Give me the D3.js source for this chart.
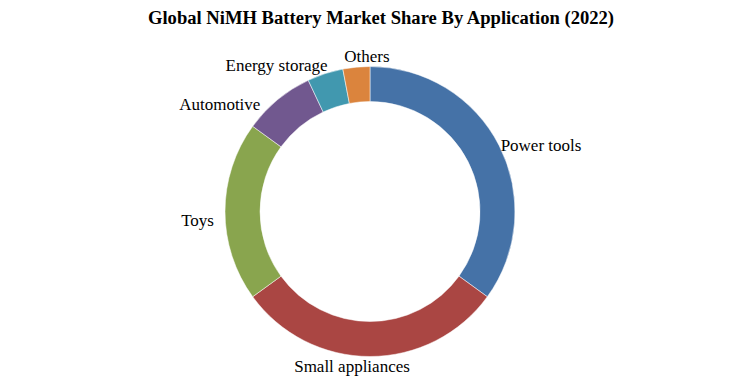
<!DOCTYPE html>
<html>
<head>
<meta charset="utf-8">
<script src="https://cdn.jsdelivr.net/npm/d3@7"></script>
<style>
  body { margin: 0; background: #fff; }
  text { font-family: "Liberation Serif", "Times New Roman", serif; fill: #000; }
</style>
</head>
<body>
<div id="chart"></div>
<script>
var categories = ["Power tools", "Small appliances", "Toys", "Automotive", "Energy storage", "Others"];
var shares = [35, 30, 20, 8, 4, 3];
var colors = ["#4572A7", "#AA4643", "#89A54E", "#71588F", "#4198AF", "#DB843D"];
var title = "Global NiMH Battery Market Share By Application (2022)";

var width = 751,
    height = 388;

var svg = d3.select("#chart").append("svg")
    .attr("width", width)
    .attr("height", height);

svg.append("text")
    .attr("x", 381)
    .attr("y", 24)
    .attr("text-anchor", "middle")
    .style("font-size", "18.6px")
    .style("font-weight", "bold")
    .text(title);

var cx = 370, cy = 211.5,
    outerR = 145, innerR = 110;

var data = categories.map(function(c, i) { return { name: c, value: shares[i] }; });

var pie = d3.pie()
    .sort(null)
    .value(function(d) { return d.value; });

var arc = d3.arc()
    .innerRadius(innerR)
    .outerRadius(outerR);

var g = svg.append("g")
    .attr("transform", "translate(" + cx + "," + cy + ")");

var arcs = pie(data);

g.selectAll("path")
    .data(arcs)
    .enter().append("path")
    .attr("d", arc)
    .attr("fill", function(d, i) { return colors[i]; })
    .attr("stroke", "#fff")
    .attr("stroke-width", 0.5);

// small hand nudges so the labels sit like the original
var nudge = [[-3, 2], [-18, 5], [-6, 8.5], [-14, 8], [4, -3.5], [11, -6.5]];

var labelR = outerR + 5;
g.selectAll("text.lbl")
    .data(arcs)
    .enter().append("text")
    .attr("class", "lbl")
    .each(function(d, i) {
        var a = (d.startAngle + d.endAngle) / 2;
        var s = Math.sin(a);
        var x = labelR * s + nudge[i][0],
            y = -labelR * Math.cos(a) + nudge[i][1];
        var anchor = s > 0.15 ? "start" : (s < -0.15 ? "end" : "middle");
        d3.select(this)
            .attr("x", x)
            .attr("y", y)
            .attr("dy", "0.35em")
            .attr("text-anchor", anchor);
    })
    .style("font-size", "17px")
    .text(function(d) { return d.data.name; });
</script>
</body>
</html>
